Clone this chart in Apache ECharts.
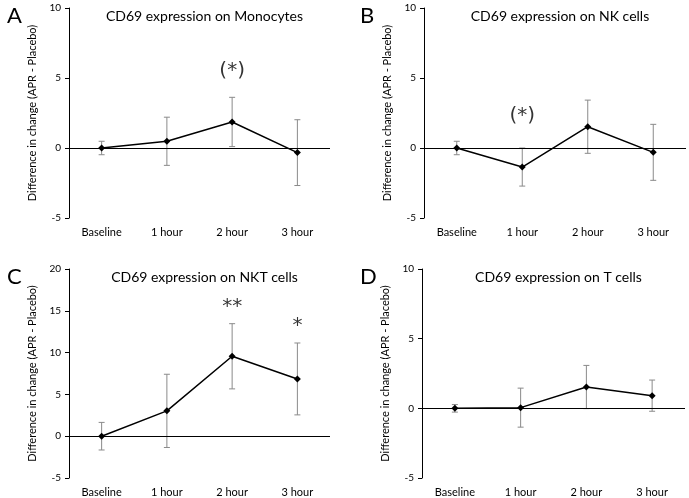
<!DOCTYPE html>
<html lang="en">
    <head>
        <meta charset="utf-8">
        <title>CD69 expression</title>
        <script src="https://cdn.jsdelivr.net/npm/echarts@6.0.0/dist/echarts.min.js"></script>
    </head>
    <body style="margin:0;background:#fff;">
        <div id="main" style="width: 689px;height: 498px;"></div>

        <script type="text/javascript">

            // data
            let categories = ['Baseline', '1 hour', '2 hour', '3 hour'];

            let monoMean = [0, 0.48, 1.86, -0.33];
            let monoErr = [0.48, 1.72, 1.76, 2.35];

            let nkMean = [0, -1.36, 1.52, -0.31];
            let nkErr = [0.48, 1.36, 1.9, 2.0];

            let nktMean = [0, 3.03, 9.56, 6.85];
            let nktErr = [1.65, 4.38, 3.9, 4.3];

            let tMean = [0, 0.05, 1.53, 0.91];
            let tErr = [0.27, 1.4, 1.55, 1.12];

            let panelTitles = ['CD69 expression on Monocytes', 'CD69 expression on NK cells',
                               'CD69 expression on NKT cells', 'CD69 expression on T cells'];
            let panelLetters = ['A', 'B', 'C', 'D'];
            let yMax = [10, 10, 20, 10];
            let yMin = [-5, -5, -5, -5];

            // significance marks: [panel, category index, value, text]
            let marks = [
                [0, 2, 5.5, '(*)'],
                [1, 1, 2.3, '(*)'],
                [2, 2, 15.5, '**'],
                [2, 3, 13.2, '*']
            ];

            let means = [monoMean, nkMean, nktMean, tMean];
            let errs = [monoErr, nkErr, nktErr, tErr];

            let font = 'Lato, "Open Sans", sans-serif';

            // grid boxes
            let grids = [
                {left: 69, top: 8, width: 261, height: 210},
                {left: 424, top: 8, width: 262, height: 210},
                {left: 69, top: 269, width: 261, height: 209},
                {left: 422, top: 269, width: 263, height: 209}
            ];

            let myChart = echarts.init(document.getElementById('main'));

            let options = {
                animation: false,
                backgroundColor: '#fff',
                title: [],
                grid: [],
                xAxis: [],
                yAxis: [],
                series: []
            };

            grids.forEach((g, i) => {
                options.grid.push(g);
                options.title.push({
                    text: panelTitles[i],
                    left: g.left + g.width / 2, top: g.top - 4,
                    textAlign: 'center',
                    textStyle: {fontFamily: font, fontSize: 14, fontWeight: 'normal', color: '#000'}
                });
                options.title.push({
                    text: panelLetters[i],
                    left: i % 2 ? 355 : 2, top: g.top - 8,
                    textStyle: {fontFamily: font, fontSize: 22, fontWeight: 'normal', color: '#000'}
                });
                options.xAxis.push({
                    type: 'category', gridIndex: i, data: categories,
                    axisLine: {show: false, onZero: false},
                    axisTick: {show: false},
                    axisLabel: {fontFamily: font, fontSize: 11, color: '#000', margin: 9}
                });
                options.yAxis.push({
                    type: 'value', gridIndex: i, min: yMin[i], max: yMax[i], interval: 5,
                    name: 'Difference in change (APR - Placebo)',
                    nameLocation: 'middle', nameGap: 31,
                    nameTextStyle: {fontFamily: font, fontSize: 11, color: '#000'},
                    splitLine: {show: false},
                    axisLine: {show: true, lineStyle: {color: '#000', width: 1}},
                    axisTick: {show: true, length: 4, lineStyle: {color: '#000'}},
                    axisLabel: {fontFamily: font, fontSize: 10, color: '#000', margin: 8}
                });

                let errData = means[i].map((m, k) => [k, m - errs[i][k], m + errs[i][k]]);
                options.series.push({
                    type: 'custom', xAxisIndex: i, yAxisIndex: i, z: 2,
                    data: errData,
                    encode: {x: 0, y: [1, 2]},
                    renderItem: (params, api) => {
                        let lo = api.coord([api.value(0), api.value(1)]);
                        let hi = api.coord([api.value(0), api.value(2)]);
                        let w = 3;
                        let st = {stroke: '#8a8a8a', lineWidth: 1};
                        return {
                            type: 'group',
                            children: [
                                {type: 'line', shape: {x1: lo[0], y1: lo[1], x2: hi[0], y2: hi[1]}, style: st},
                                {type: 'line', shape: {x1: lo[0] - w, y1: lo[1], x2: lo[0] + w, y2: lo[1]}, style: st},
                                {type: 'line', shape: {x1: hi[0] - w, y1: hi[1], x2: hi[0] + w, y2: hi[1]}, style: st}
                            ]
                        };
                    }
                });
                options.series.push({
                    type: 'line', xAxisIndex: i, yAxisIndex: i, z: 3,
                    data: means[i],
                    symbol: 'diamond', symbolSize: 7,
                    itemStyle: {color: '#000'},
                    lineStyle: {color: '#000', width: 1.5},
                    markLine: {
                        silent: true, symbol: 'none', label: {show: false},
                        lineStyle: {color: '#000', width: 1, type: 'solid'},
                        data: [{yAxis: 0}]
                    }
                });
                options.series.push({
                    type: 'scatter', xAxisIndex: i, yAxisIndex: i, z: 4,
                    symbolSize: 0,
                    data: marks.filter(m => m[0] === i).map(m => ({value: [m[1], m[2]], text: m[3]})),
                    label: {
                        show: true, position: 'inside',
                        formatter: p => p.data.text,
                        fontFamily: '"DejaVu Sans", sans-serif', fontSize: 20, color: '#000'
                    }
                });
            });

            myChart.setOption(options);

        </script>
    </body>
</html>
